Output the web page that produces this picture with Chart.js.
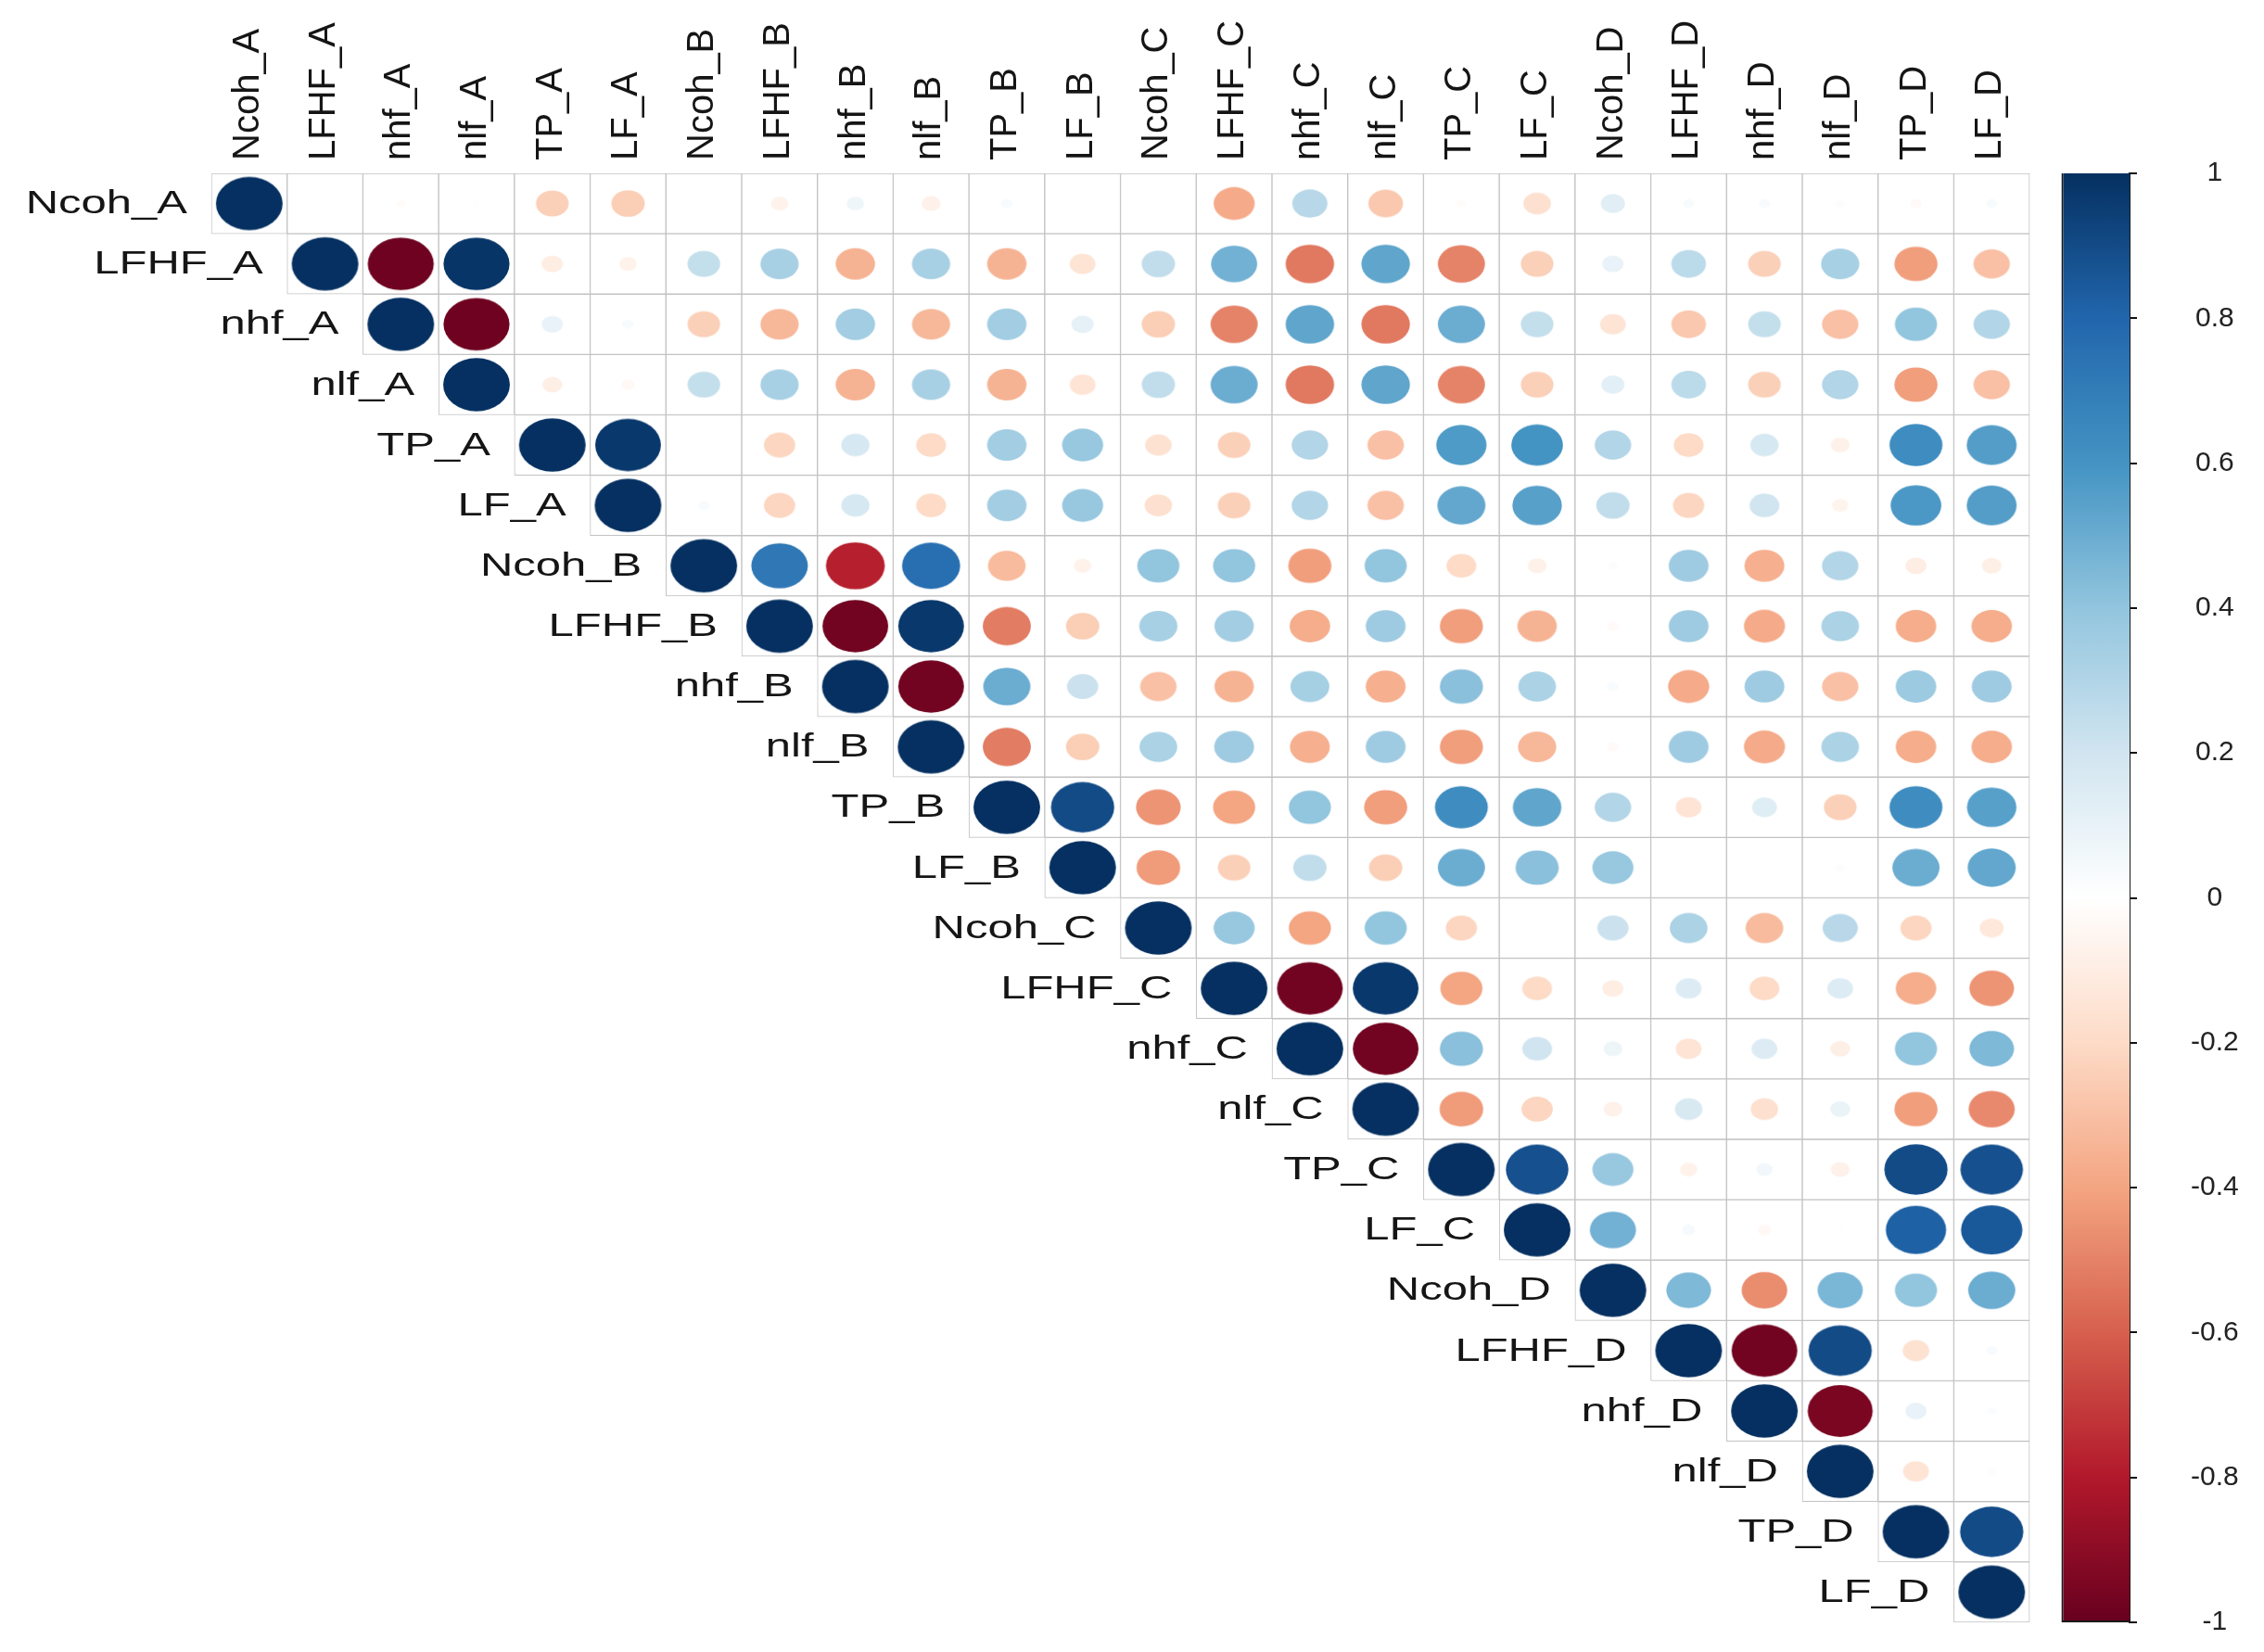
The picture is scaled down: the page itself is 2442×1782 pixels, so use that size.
<!DOCTYPE html>
<html>
<head>
<meta charset="utf-8">
<script src="https://cdn.jsdelivr.net/npm/chart.js@4.4.1/dist/chart.umd.min.js"></script>
<style>
html,body{margin:0;padding:0;background:#ffffff;}
canvas{display:block;}
</style>
</head>
<body>
<canvas id="c" width="2442" height="1782"></canvas>
<script>
// ---------------- data ----------------
const variables = ["Ncoh_A","LFHF_A","nhf_A","nlf_A","TP_A","LF_A",
                   "Ncoh_B","LFHF_B","nhf_B","nlf_B","TP_B","LF_B",
                   "Ncoh_C","LFHF_C","nhf_C","nlf_C","TP_C","LF_C",
                   "Ncoh_D","LFHF_D","nhf_D","nlf_D","TP_D","LF_D"];

// upper triangle: each row starts at its own diagonal cell
const rowNcohA = [1, 0, -0.02, 0.01, -0.24, -0.25, 0, -0.07, 0.07, -0.08, 0.03, 0, 0, -0.38, 0.28, -0.27, -0.02, -0.17, 0.13, 0.03, 0.03, 0.02, -0.03, 0.03];
const rowLFHFA = [1, -0.98, 0.98, -0.1, -0.07, 0.24, 0.33, -0.35, 0.33, -0.35, -0.15, 0.25, 0.48, -0.53, 0.53, -0.5, -0.24, 0.1, 0.27, -0.24, 0.33, -0.42, -0.3];
const rowNhfA  = [1, -0.98, 0.1, 0.03, -0.24, -0.33, 0.35, -0.33, 0.35, 0.11, -0.25, -0.5, 0.53, -0.53, 0.5, 0.24, -0.15, -0.27, 0.24, -0.3, 0.4, 0.3];
const rowNlfA  = [1, -0.09, -0.04, 0.24, 0.33, -0.35, 0.33, -0.35, -0.15, 0.25, 0.5, -0.53, 0.53, -0.5, -0.24, 0.12, 0.27, -0.24, 0.3, -0.42, -0.3];
const rowTPA   = [1, 0.97, 0, -0.22, 0.18, -0.2, 0.35, 0.38, -0.16, -0.24, 0.3, -0.3, 0.57, 0.6, 0.3, -0.2, 0.18, -0.08, 0.63, 0.56];
const rowLFA   = [1, 0.03, -0.22, 0.18, -0.2, 0.35, 0.38, -0.17, -0.24, 0.3, -0.3, 0.52, 0.55, 0.25, -0.22, 0.2, -0.06, 0.58, 0.56];
const rowNcohB = [1, 0.72, -0.78, 0.76, -0.32, -0.07, 0.4, 0.4, -0.42, 0.4, -0.2, -0.08, 0.02, 0.36, -0.36, 0.3, -0.1, -0.09];
const rowLFHFB = [1, -0.97, 0.97, -0.52, -0.25, 0.33, 0.35, -0.37, 0.36, -0.42, -0.35, -0.03, 0.36, -0.38, 0.32, -0.37, -0.37];
const rowNhfB  = [1, -0.97, 0.5, 0.22, -0.3, -0.35, 0.34, -0.36, 0.42, 0.32, 0.03, -0.38, 0.36, -0.3, 0.37, 0.36];
const rowNlfB  = [1, -0.52, -0.25, 0.32, 0.36, -0.36, 0.36, -0.42, -0.33, -0.03, 0.36, -0.38, 0.32, -0.37, -0.37];
const rowTPB   = [1, 0.9, -0.45, -0.4, 0.4, -0.42, 0.63, 0.53, 0.3, -0.15, 0.14, -0.24, 0.63, 0.55];
const rowLFB   = [1, -0.43, -0.24, 0.25, -0.25, 0.5, 0.42, 0.38, 0, 0, 0.02, 0.5, 0.52];
const rowNcohC = [1, 0.38, -0.4, 0.4, -0.22, 0.01, 0.22, 0.32, -0.32, 0.28, -0.22, -0.13];
const rowLFHFC = [1, -0.97, 0.97, -0.4, -0.2, -0.1, 0.15, -0.2, 0.15, -0.37, -0.45];
const rowNhfC  = [1, -0.97, 0.42, 0.2, 0.08, -0.15, 0.15, -0.09, 0.4, 0.45];
const rowNlfC  = [1, -0.43, -0.22, -0.08, 0.17, -0.17, 0.09, -0.42, -0.48];
const rowTPC   = [1, 0.88, 0.38, -0.07, 0.06, -0.08, 0.9, 0.88];
const rowLFC   = [1, 0.48, 0.04, -0.04, 0.01, 0.82, 0.85];
const rowNcohD = [1, 0.45, -0.47, 0.46, 0.4, 0.5];
const rowLFHFD = [1, -0.97, 0.9, -0.16, 0.03];
const rowNhfD  = [1, -0.95, 0.1, 0.02];
const rowNlfD  = [1, -0.15, 0.02];
const rowTPD   = [1, 0.9];
const rowLFD   = [1];

const colorbarTicks = [1, 0.8, 0.6, 0.4, 0.2, 0, -0.2, -0.4, -0.6, -0.8, -1];

// ---------------- style / layout ----------------
const palette = ["#67001F","#B2182B","#D6604D","#F4A582","#FDDBC7","#FFFFFF",
                 "#D1E5F0","#92C5DE","#4393C3","#2166AC","#053061"]; // -1 .. 1
const X_MAX = 24.82;          // right edge of the plotting area (units of cells)
const COLORBAR_X = 24.37;     // centre of the colour legend (units of cells)
const CIRCLE_FRAC = 0.44;     // radius of |r| = 1 circle as a fraction of the cell
const FONT = '"Liberation Sans", Arial, sans-serif';

const corrRows = [rowNcohA,rowLFHFA,rowNhfA,rowNlfA,rowTPA,rowLFA,
                  rowNcohB,rowLFHFB,rowNhfB,rowNlfB,rowTPB,rowLFB,
                  rowNcohC,rowLFHFC,rowNhfC,rowNlfC,rowTPC,rowLFC,
                  rowNcohD,rowLFHFD,rowNhfD,rowNlfD,rowTPD,rowLFD];

function hexToRgb(h){return [parseInt(h.slice(1,3),16),parseInt(h.slice(3,5),16),parseInt(h.slice(5,7),16)];}
const palRgb = palette.map(hexToRgb);
function colorFor(v){
  const t = (Math.max(-1,Math.min(1,v)) + 1) / 2 * (palRgb.length - 1);
  const i = Math.min(palRgb.length - 2, Math.floor(t));
  const f = t - i;
  const a = palRgb[i], b = palRgb[i+1];
  const c = a.map((ai,k)=>Math.round(ai + (b[k]-ai)*f));
  return `rgb(${c[0]},${c[1]},${c[2]})`;
}

// build chart data from the arrays
const cellData = [];
const corrData = [];
corrRows.forEach((row, i) => {
  row.forEach((v, k) => {
    const j = i + k;
    cellData.push({x: j, y: [i - 0.5, i + 0.5]});
    corrData.push({x: j, y: i, v: v});
  });
});

const ellipseCache = {};
function ellipseImage(v, cw, ch){
  const rx = Math.sqrt(Math.abs(v)) * CIRCLE_FRAC * cw;
  const ry = Math.sqrt(Math.abs(v)) * CIRCLE_FRAC * ch;
  const key = v + '_' + cw.toFixed(2) + '_' + ch.toFixed(2);
  if (ellipseCache[key]) return ellipseCache[key];
  const cnv = document.createElement('canvas');
  cnv.width = Math.ceil(2*rx + 6);
  cnv.height = Math.ceil(2*ry + 6);
  const g = cnv.getContext('2d');
  g.fillStyle = colorFor(v);
  g.beginPath();
  g.ellipse(cnv.width/2, cnv.height/2, Math.max(rx,0.01), Math.max(ry,0.01), 0, 0, Math.PI*2);
  g.fill();
  ellipseCache[key] = cnv;
  return cnv;
}

const rowLabelPlugin = {
  id: 'rowLabels',
  afterDatasetsDraw(chart){
    const {ctx, scales:{x, y}} = chart;
    ctx.save();
    ctx.font = '35px ' + FONT;
    ctx.fillStyle = '#151515';
    ctx.textAlign = 'right';
    ctx.textBaseline = 'middle';
    variables.forEach((name, i) => {
      const px = x.getPixelForValue(i - 0.5) - 26;
      const py = y.getPixelForValue(i);
      ctx.save();
      ctx.translate(px, py + 1);
      ctx.scale(1.4, 1);
      ctx.fillText(name, 0, 0);
      ctx.restore();
    });
    ctx.restore();
  }
};

new Chart(document.getElementById('c'), {
  type: 'bar',
  data: {
    datasets: [
      {
        type: 'scatter',
        label: 'corr',
        data: corrData,
        order: 0,
        xAxisID: 'x', yAxisID: 'y',
        pointRadius: (c) => (c.raw && Math.abs(c.raw.v) > 0.004) ? 3 : 0,
        pointStyle: (c) => {
          const ch = c.chart;
          const sx = ch.scales.x, sy = ch.scales.y;
          const cw = Math.abs(sx.getPixelForValue(1) - sx.getPixelForValue(0));
          const chh = Math.abs(sy.getPixelForValue(1) - sy.getPixelForValue(0));
          return ellipseImage(c.raw ? c.raw.v : 0, cw || 80, chh || 65);
        }
      },
      {
        type: 'bar',
        label: 'cells',
        data: cellData,
        order: 1,
        grouped: false,
        xAxisID: 'x', yAxisID: 'y',
        backgroundColor: '#ffffff',
        borderColor: '#c2c2c2',
        borderWidth: 1,
        borderSkipped: false,
        barPercentage: 1,
        categoryPercentage: 1
      },
      {
        type: 'bar',
        label: 'colorbar',
        data: [{x: COLORBAR_X, y: [colorbarTicks[colorbarTicks.length-1], colorbarTicks[0]]}],
        order: 2,
        grouped: false,
        xAxisID: 'x', yAxisID: 'y2',
        backgroundColor: (c) => {
          const area = c.chart.chartArea;
          if (!area) return palette[5];
          const g = c.chart.ctx.createLinearGradient(0, area.top, 0, area.bottom);
          palette.forEach((col, k) => {
            g.addColorStop(1 - k/(palette.length-1), col);
          });
          return g;
        },
        borderColor: '#1a1a1a',
        borderWidth: {left: 2, right: 0, top: 0, bottom: 2},
        borderSkipped: false,
        barPercentage: 0.9,
        categoryPercentage: 1
      }
    ]
  },
  options: {
    responsive: false,
    devicePixelRatio: 1,
    animation: false,
    events: [],
    layout: {padding: {left: 228, top: 0, right: 0, bottom: 32}},
    plugins: {legend: {display: false}, tooltip: {enabled: false}},
    scales: {
      x: {
        type: 'linear',
        position: 'top',
        offset: false,
        min: -0.5,
        max: X_MAX,
        grid: {display: false, offset: false},
        border: {display: false},
        afterBuildTicks: (axis) => { axis.ticks = variables.map((_, i) => ({value: i})); },
        afterFit: (axis) => { axis.height = 187; axis.paddingLeft = 0; axis.paddingRight = 0; },
        ticks: {
          autoSkip: false,
          minRotation: 90,
          maxRotation: 90,
          padding: 6,
          labelOffset: 47,
          color: '#151515',
          font: {family: FONT, size: 40},
          callback: (value) => variables[value] !== undefined ? variables[value] : ''
        }
      },
      y: {
        type: 'linear',
        reverse: true,
        offset: false,
        min: -0.5,
        max: variables.length - 0.5,
        display: false,
        stacked: false
      },
      y2: {
        type: 'linear',
        position: 'right',
        offset: false,
        min: -1,
        max: 1,
        stacked: false,
        grid: {display: true, drawOnChartArea: false, drawTicks: true, tickLength: 8, color: '#111111', lineWidth: 2},
        border: {display: true, color: '#1a1a1a', width: 2},
        afterBuildTicks: (axis) => { axis.ticks = colorbarTicks.map(v => ({value: v})); },
        afterFit: (axis) => { axis.width = 145; axis.paddingTop = 0; axis.paddingBottom = 0; },
        ticks: {
          padding: 58,
          crossAlign: 'center',
          color: '#222222',
          font: {family: FONT, size: 30},
          callback: (v) => Math.abs(v) < 1e-9 ? '0' : String(Number(v.toFixed(1)))
        }
      }
    }
  },
  plugins: [rowLabelPlugin]
});
</script>
</body>
</html>
